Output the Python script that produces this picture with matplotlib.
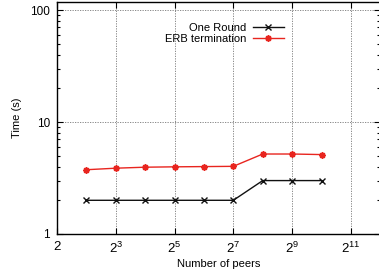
import matplotlib
matplotlib.use("Agg")
import matplotlib.pyplot as plt
from matplotlib.ticker import FixedLocator, NullFormatter, LogLocator

# ── Data ──────────────────────────────────────────────────────────────
peers = [4, 8, 16, 32, 64, 128, 256, 512, 1024]
one_round = [2.0, 2.0, 2.0, 2.0, 2.0, 2.0, 3.0, 3.0, 3.0]
erb_term = [3.75, 3.87, 3.95, 3.98, 4.0, 4.02, 5.18, 5.18, 5.12]

x_ticks = [2, 8, 32, 128, 512, 2048]
x_ticklabels = ["2", "$2^3$", "$2^5$", "$2^7$", "$2^9$", "$2^{11}$"]
y_ticks = [1, 10, 100]
y_ticklabels = ["1", "10", "100"]

plt.rcParams["font.family"] = ["Liberation Sans", "DejaVu Sans"]
plt.rcParams["mathtext.fontset"] = "custom"
plt.rcParams["mathtext.rm"] = "Liberation Sans"
plt.rcParams["mathtext.it"] = "Liberation Sans"
plt.rcParams["mathtext.default"] = "regular"

fig = plt.figure(figsize=(3.79, 2.75), dpi=100)
W, H = 379, 275
ax = fig.add_axes([57 / W, 1 - 234 / H, (380.3 - 57) / W, (234 - 2) / H])

ax.plot(peers, one_round, color="#111111", lw=1.0, marker="x", ms=4.5,
        mew=1.0, label="One Round")
ax.plot(peers, erb_term, color="#e8251f", lw=1.0, marker=(8, 2, 0), ms=4.5,
        mew=1.2, label="ERB termination")

ax.set_xscale("log", base=2)
ax.set_yscale("log")
ax.set_xlim(2, 4096)
ax.set_ylim(1, 118)

ax.xaxis.set_major_locator(FixedLocator(x_ticks))
ax.set_xticklabels(x_ticklabels)
ax.xaxis.set_minor_formatter(NullFormatter())
ax.xaxis.set_minor_locator(FixedLocator([]))
ax.yaxis.set_major_locator(FixedLocator(y_ticks))
ax.set_yticklabels(y_ticklabels)
ax.yaxis.set_minor_locator(LogLocator(base=10, subs=range(2, 10)))
ax.yaxis.set_minor_formatter(NullFormatter())

ax.tick_params(which="both", direction="in", top=True, right=True,
               width=0.8)
ax.tick_params(axis="y", labelsize=8.5, pad=5)
ax.tick_params(axis="x", labelsize=9.5, pad=5)
ax.tick_params(which="major", length=4)
ax.tick_params(which="minor", length=2)
ax.grid(True, which="major", color="#777777", ls=(0, (1.5, 1.5)), lw=0.6)
for s in ax.spines.values():
    s.set_linewidth(1.0)

ax.set_xlabel("Number of peers", fontsize=8, labelpad=2)
ax.set_ylabel("Time (s)", fontsize=8, labelpad=6)

ax.legend(loc="upper right", bbox_to_anchor=((284 - 57) / (380.3 - 57), 1 - 21 / 232),
          frameon=False, markerfirst=False, fontsize=8, handlelength=2.8,
          labelspacing=0.05, handletextpad=0.6, borderaxespad=0, borderpad=0)

fig.savefig("out.png", dpi=100)
